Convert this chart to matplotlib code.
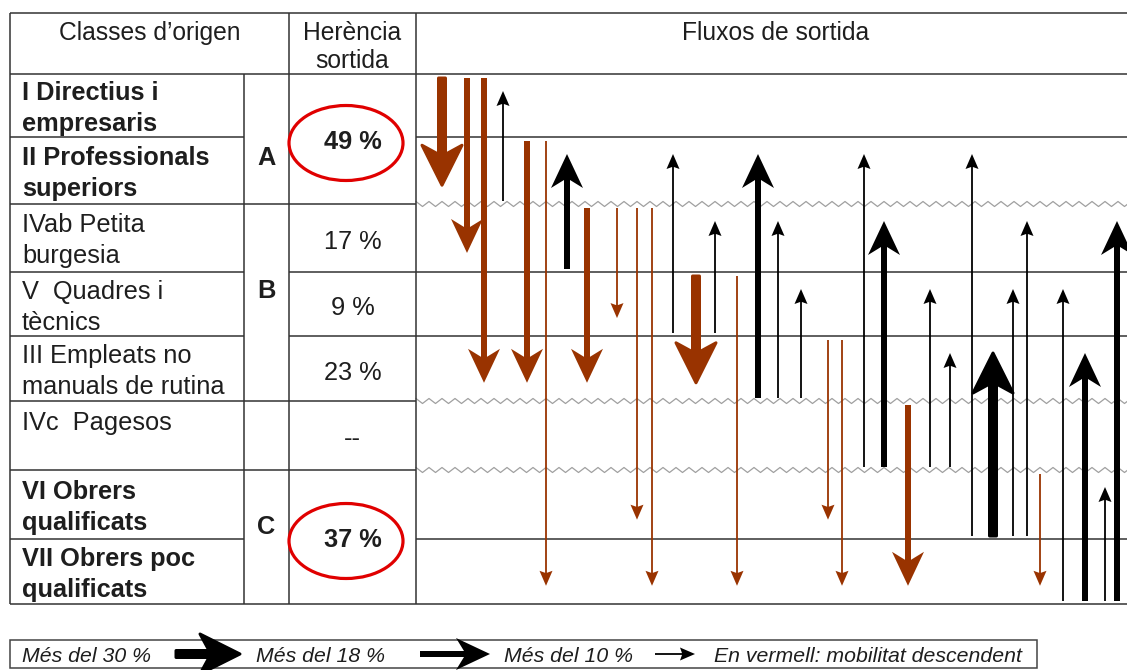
import numpy as np
import matplotlib
matplotlib.use("Agg")
import matplotlib.pyplot as plt
from matplotlib.patches import Polygon, Ellipse, Rectangle

plt.rcParams['font.family'] = ['Liberation Sans', 'DejaVu Sans']

# --- data -------------------------------------------------------------
classes = ["I", "II", "IVab", "V", "III", "IVc", "VI", "VII"]
class_names = ["I Directius i\nempresaris", "II Professionals\nsuperiors",
               "IVab Petita\nburgesia", "V  Quadres i\ntècnics",
               "III Empleats no\nmanuals de rutina", "IVc  Pagesos",
               "VI Obrers\nqualificats", "VII Obrers poc\nqualificats"]
bold_class = [True, True, False, False, False, False, True, True]

groups = ["A", "B", "", "C"]
group_rows = [(0, 1), (2, 4), (5, 5), (6, 7)]   # first / last class of each group
heritage = ["49 %", "", "--", "37 %"]            # group level values
heritage_rows = {"IVab": "17 %", "V": "9 %", "III": "23 %"}
circled = ["49 %", "37 %"]

# outflows, listed left to right: origin class, destination class, strength
# strength: 1 = més del 10 %, 2 = més del 18 %, 3 = més del 30 %
flow_from = ["I", "I", "I", "II", "II", "II",
             "IVab", "IVab", "IVab", "IVab", "IVab",
             "V", "V", "V", "V",
             "III", "III", "III", "III", "III",
             "IVc", "IVc", "IVc", "IVc", "IVc",
             "VI", "VI", "VI", "VI", "VI",
             "VII", "VII", "VII", "VII"]
flow_to = ["II", "IVab", "III", "I", "III", "VII",
           "II", "III", "V", "VI", "VII",
           "II", "III", "IVab", "VII",
           "II", "IVab", "V", "VI", "VII",
           "II", "IVab", "VII", "V", "III",
           "II", "III", "V", "IVab", "VII",
           "V", "III", "VI", "IVab"]
flow_level = [3, 2, 2, 1, 2, 1,
              2, 2, 1, 1, 1,
              1, 3, 1, 1,
              2, 1, 1, 1, 1,
              1, 2, 2, 1, 1,
              1, 3, 1, 1, 1,
              1, 2, 1, 2]

legend_labels = ["Més del 30 %", "Més del 18 %", "Més del 10 %",
                 "En vermell: mobilitat descendent"]
legend_levels = [3, 2, 1]

# --- layout (pixels) --------------------------------------------------
row_edges = [74, 137, 204, 272, 336, 401, 470, 539, 604]
col_x = [10, 244, 289, 416, 1127]
arrow_x = [442, 467, 484, 503, 527, 546, 567, 587, 617, 637, 652, 673, 696,
           715, 737, 758, 778, 801, 828, 842, 864, 884, 908, 930, 950, 972,
           993, 1013, 1027, 1040, 1063, 1085, 1105, 1117]
letter_y = [155, 288, None, 524]
styles = {1: dict(w=1.8, hw=13, hl=15, notch=2, lw=0),
          2: dict(w=6, hw=32, hl=34, notch=8, lw=0),
          3: dict(w=7, hw=40, hl=40, notch=9, lw=3.0)}

BROWN = "#993300"
INK = "#1e1e1e"
LINE = "#333333"
DY = 3  # text baseline nudge

fig = plt.figure(figsize=(11.27, 6.70), dpi=100)
ax = fig.add_axes([0, 0, 1, 1])
ax.set_xlim(0, 1127)
ax.set_ylim(670, 0)
ax.axis('off')


def hline(y, x0, x1):
    ax.plot([x0, x1], [y, y], color=LINE, lw=1.1, solid_capstyle='butt', zorder=2)


def vline(x, y0, y1):
    ax.plot([x, x], [y0, y1], color=LINE, lw=1.1, solid_capstyle='butt', zorder=2)


def wavy(y, x0, x1):
    xs = np.arange(x0, x1 + 7, 6.5)
    ys = y + np.where(np.arange(len(xs)) % 2 == 0, -2.5, 2.5)
    ax.plot(xs, ys, color="#a0a0a0", lw=0.9, zorder=1)


def arrow(x0, y0, x1, y1, level, color):
    s = styles[level]
    p0 = np.array([x0, y0], float)
    tip = np.array([x1, y1], float)
    u = (tip - p0) / np.hypot(*(tip - p0))
    n = np.array([-u[1], u[0]])
    back = tip - u * s['hl']
    neck = tip - u * (s['hl'] - s['notch'])
    pts = [p0 + n * s['w'] / 2, neck + n * s['w'] / 2, back + n * s['hw'] / 2,
           tip, back - n * s['hw'] / 2, neck - n * s['w'] / 2, p0 - n * s['w'] / 2]
    ax.add_patch(Polygon(pts, closed=True, facecolor=color, edgecolor=color,
                         lw=s['lw'] * 0.72, joinstyle='round', zorder=4))


# --- table frame ------------------------------------------------------
hline(13, col_x[0], col_x[4])
hline(row_edges[0], col_x[0], col_x[4])
hline(row_edges[-1], col_x[0], col_x[4])
vline(col_x[0], 13, row_edges[-1])
vline(col_x[2], 13, row_edges[-1])
vline(col_x[3], 13, row_edges[-1])
vline(col_x[1], row_edges[0], row_edges[-1])

group_of = {}
for g, (a, b) in enumerate(group_rows):
    for r in range(a, b + 1):
        group_of[r] = g

for i in range(1, len(classes)):
    y = row_edges[i]
    same_group = group_of[i] == group_of[i - 1]
    hline(y, col_x[0], col_x[1])
    if not same_group:
        hline(y, col_x[1], col_x[3])
        wavy(y, col_x[3], col_x[4])
    else:
        if classes[i] in heritage_rows or classes[i - 1] in heritage_rows:
            hline(y, col_x[2], col_x[3])
        hline(y, col_x[3], col_x[4])

# --- header -----------------------------------------------------------
ax.text((col_x[0] + col_x[2]) / 2, 30 + DY, "Classes d\u2019origen", ha='center', va='center',
        fontsize=17.7, color=INK)
ax.text((col_x[2] + col_x[3]) / 2, 30 + DY, "Herència", ha='center', va='center',
        fontsize=17.7, color=INK)
ax.text((col_x[2] + col_x[3]) / 2, 58 + DY, "sortida", ha='center', va='center',
        fontsize=17.7, color=INK)
ax.text(776, 30 + DY, "Fluxos de sortida", ha='center', va='center', fontsize=17.7, color=INK)

# --- class names ------------------------------------------------------
for i, name in enumerate(class_names):
    yc = (row_edges[i] + row_edges[i + 1]) / 2
    for k, line in enumerate(name.split("\n")):
        ax.text(22, yc - 15.5 + 31 * k + DY, line, ha='left', va='center', fontsize=18.3,
                fontweight='bold' if bold_class[i] else 'normal', color=INK)

for g, (a, b) in enumerate(group_rows):
    gc = (row_edges[a] + row_edges[b + 1]) / 2
    if groups[g]:
        ax.text((col_x[1] + col_x[2]) / 2, letter_y[g] + DY, groups[g], ha='center',
                va='center', fontsize=18.3, fontweight='bold', color=INK)
    if heritage[g]:
        big = heritage[g] in circled
        ax.text((col_x[2] + col_x[3]) / 2, gc + DY, heritage[g], ha='center',
                va='center', fontsize=18.3, fontweight='bold' if big else 'normal', color=INK)
        if big:
            ax.add_patch(Ellipse((346, gc + 4), 114, 75, fill=False, edgecolor="#e00000",
                                 lw=2.3, zorder=3))

for i, c in enumerate(classes):
    if c in heritage_rows:
        yc = (row_edges[i] + row_edges[i + 1]) / 2
        ax.text((col_x[2] + col_x[3]) / 2, yc + 1 + DY, heritage_rows[c], ha='center',
                va='center', fontsize=18.3, color=INK)

# --- flows ------------------------------------------------------------
for x, a, b, lev in zip(arrow_x, flow_from, flow_to, flow_level):
    ia, ib = classes.index(a), classes.index(b)
    if ib > ia:   # downward mobility, red
        y0 = row_edges[ia] + 4
        y1 = row_edges[ib] + 0.72 * (row_edges[ib + 1] - row_edges[ib])
        arrow(x, y0, x, y1, lev, BROWN)
    else:
        y0 = row_edges[ia + 1] - 3
        y1 = row_edges[ib] + 17
        arrow(x, y0, x, y1, lev, "black")

# --- legend -----------------------------------------------------------
ax.add_patch(Rectangle((10, 640), 1027, 28, fill=False, edgecolor="#444444", lw=1.1, zorder=2))
leg_text_x = [87, 321, 568, 868]
leg_arrow_x = [(176, 240), (420, 490), (655, 695)]
for k, lab in enumerate(legend_labels):
    ax.text(leg_text_x[k], 655 + 2, lab, ha='center', va='center', fontsize=15.3,
            style='italic', color=INK)
for (x0, x1), lev in zip(leg_arrow_x, legend_levels):
    arrow(x0, 654, x1, 654, lev, "black")

fig.savefig("out.png", dpi=100)
